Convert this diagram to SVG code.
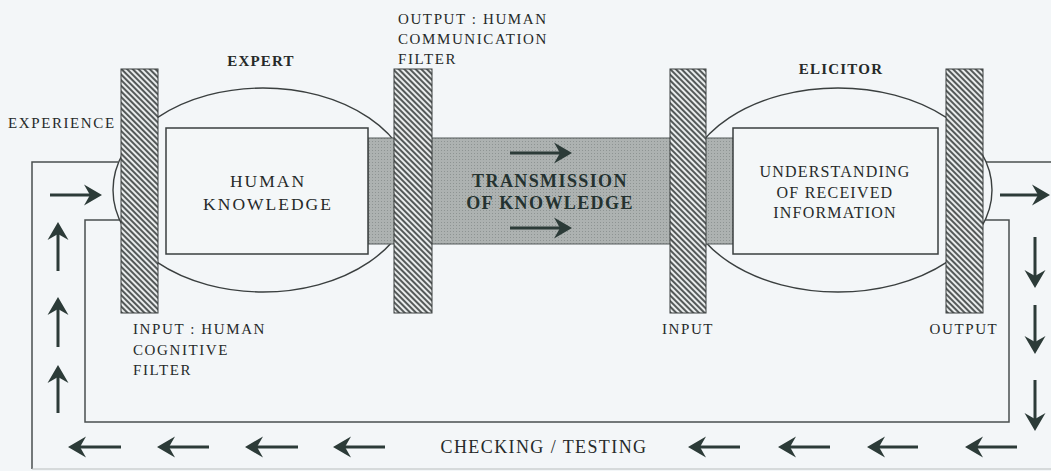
<svg xmlns="http://www.w3.org/2000/svg" xmlns:xlink="http://www.w3.org/1999/xlink" width="1051" height="471" viewBox="0 0 1051 471">
  <defs>
    <pattern id="hatch" patternUnits="userSpaceOnUse" width="4" height="4" patternTransform="rotate(-45)">
      <rect width="4" height="4" fill="#e9ecec"/>
      <line x1="1" y1="-1" x2="1" y2="5" stroke="#3a3f3f" stroke-width="1.7"/>
    </pattern>
    <pattern id="stipple" patternUnits="userSpaceOnUse" width="3" height="3">
      <rect width="3" height="3" fill="#adb2b1"/>
      <rect width="1" height="1" fill="#8e9493"/>
    </pattern>
    <path id="head" d="M0,0 L-18,-10.5 L-12,0 L-18,10.5 Z" fill="#2c3b38"/>
    <style>
      .bg{fill:#f3f6f8}
      .bar{fill:url(#hatch);stroke:#3a3f3f;stroke-width:1}
      .shell{fill:#f3f6f8;stroke:#3a3f3f;stroke-width:1.4}
      .box{fill:#f4f7f8;stroke:#3a3f3f;stroke-width:1.5}
      .band{fill:url(#stipple);stroke:#555b5a;stroke-width:1}
      .loop{fill:none;stroke:#4a4f4f;stroke-width:1.5}
      .shaft{stroke:#2c3b38;stroke-width:3}
      text{font-family:"Liberation Serif","Times New Roman",serif;fill:#262a29}
      .lbl{font-size:15px;letter-spacing:1.6px}
      .ttl{font-size:15px;font-weight:bold;letter-spacing:1.2px;text-anchor:middle}
      .big{font-size:17.5px;letter-spacing:2px;text-anchor:middle}
      .mid{font-size:16px;letter-spacing:1.2px;text-anchor:middle}
      .trans{font-size:18px;font-weight:bold;letter-spacing:1.4px;text-anchor:middle;fill:#243230}
    </style>
  </defs>
  <rect class="bg" x="0" y="0" width="1051" height="471"/>

  <g id="connectors">
    <!-- feedback loop outlines -->
    <path class="loop" d="M118,162 H32 V469"/>
    <line x1="32" y1="469" x2="1051" y2="469" stroke="#b9bdbd" stroke-width="1.2"/>
    <path class="loop" d="M120,220 H85 V422 H1009 V220 H980"/>
    <line class="loop" x1="985" y1="162" x2="1051" y2="162"/>
    <!-- input arrow to expert -->
    <line class="shaft" x1="50" y1="195" x2="90" y2="195"/>
    <use xlink:href="#head" transform="translate(102,195)"/>
    <!-- output arrow from elicitor -->
    <line class="shaft" x1="1000" y1="195" x2="1038" y2="195"/>
    <use xlink:href="#head" transform="translate(1050,195)"/>
    <!-- down arrows -->
    <line class="shaft" x1="1035" y1="237" x2="1035" y2="276"/>
    <use xlink:href="#head" transform="translate(1035,288) rotate(90)"/>
    <line class="shaft" x1="1035" y1="305" x2="1035" y2="342"/>
    <use xlink:href="#head" transform="translate(1035,354) rotate(90)"/>
    <line class="shaft" x1="1035" y1="380" x2="1035" y2="419"/>
    <use xlink:href="#head" transform="translate(1035,431) rotate(90)"/>
    <!-- left arrows along bottom -->
    <line class="shaft" x1="1017" y1="447" x2="977" y2="447"/>
    <use xlink:href="#head" transform="translate(965,447) rotate(180)"/>
    <line class="shaft" x1="918" y1="447" x2="879" y2="447"/>
    <use xlink:href="#head" transform="translate(867,447) rotate(180)"/>
    <line class="shaft" x1="830" y1="447" x2="790" y2="447"/>
    <use xlink:href="#head" transform="translate(778,447) rotate(180)"/>
    <line class="shaft" x1="740" y1="447" x2="700" y2="447"/>
    <use xlink:href="#head" transform="translate(688,447) rotate(180)"/>
    <line class="shaft" x1="385" y1="447" x2="345" y2="447"/>
    <use xlink:href="#head" transform="translate(333,447) rotate(180)"/>
    <line class="shaft" x1="298" y1="447" x2="257" y2="447"/>
    <use xlink:href="#head" transform="translate(245,447) rotate(180)"/>
    <line class="shaft" x1="209" y1="447" x2="169" y2="447"/>
    <use xlink:href="#head" transform="translate(157,447) rotate(180)"/>
    <line class="shaft" x1="121" y1="447" x2="80" y2="447"/>
    <use xlink:href="#head" transform="translate(68,447) rotate(180)"/>
    <!-- up arrows -->
    <line class="shaft" x1="58" y1="413" x2="58" y2="377"/>
    <use xlink:href="#head" transform="translate(58,365) rotate(-90)"/>
    <line class="shaft" x1="58" y1="347" x2="58" y2="309"/>
    <use xlink:href="#head" transform="translate(58,297) rotate(-90)"/>
    <line class="shaft" x1="58" y1="271" x2="58" y2="234"/>
    <use xlink:href="#head" transform="translate(58,222) rotate(-90)"/>
  </g>

  <g id="expert">
    <ellipse class="shell" cx="263" cy="190" rx="150" ry="102"/>
  </g>
  <g id="elicitor">
    <ellipse class="shell" cx="838" cy="190" rx="154" ry="102"/>
  </g>

  <g id="transmission">
    <rect class="band" x="368" y="138" width="366" height="106"/>
    <line class="shaft" x1="510" y1="153" x2="560" y2="153"/>
    <use xlink:href="#head" transform="translate(572,153)"/>
    <line class="shaft" x1="510" y1="228" x2="560" y2="228"/>
    <use xlink:href="#head" transform="translate(572,228)"/>
    <text class="trans" x="550" y="187">TRANSMISSION</text>
    <text class="trans" x="550" y="209">OF KNOWLEDGE</text>
  </g>

  <g id="human-knowledge">
    <rect class="box" x="166" y="128" width="202" height="126"/>
    <text class="big" x="268" y="187">HUMAN</text>
    <text class="big" x="268" y="210">KNOWLEDGE</text>
  </g>

  <g id="understanding">
    <rect class="box" x="733" y="128" width="205" height="126"/>
    <text class="mid" x="835" y="177">UNDERSTANDING</text>
    <text class="mid" x="835" y="198">OF RECEIVED</text>
    <text class="mid" x="835" y="218">INFORMATION</text>
  </g>

  <g id="filter-input-expert">
    <rect class="bar" x="121" y="69" width="37" height="244"/>
    <text class="lbl" x="133" y="334">INPUT : HUMAN</text>
    <text class="lbl" x="133" y="355">COGNITIVE</text>
    <text class="lbl" x="133" y="375">FILTER</text>
  </g>
  <g id="filter-output-expert">
    <rect class="bar" x="394" y="69" width="38" height="244"/>
    <text class="lbl" x="398" y="24">OUTPUT : HUMAN</text>
    <text class="lbl" x="398" y="44">COMMUNICATION</text>
    <text class="lbl" x="398" y="64">FILTER</text>
  </g>
  <g id="filter-input-elicitor">
    <rect class="bar" x="670" y="69" width="36" height="244"/>
    <text class="lbl" x="688" y="334" text-anchor="middle">INPUT</text>
  </g>
  <g id="filter-output-elicitor">
    <rect class="bar" x="946" y="69" width="37" height="244"/>
    <text class="lbl" x="964" y="334" text-anchor="middle">OUTPUT</text>
  </g>

  <g id="labels">
    <text class="ttl" x="261" y="66">EXPERT</text>
    <text class="ttl" x="841" y="74">ELICITOR</text>
    <text class="lbl" x="8" y="128">EXPERIENCE</text>
    <text class="lbl" x="544" y="453" text-anchor="middle" style="font-size:18px;letter-spacing:1.4px">CHECKING / TESTING</text>
  </g>
</svg>
